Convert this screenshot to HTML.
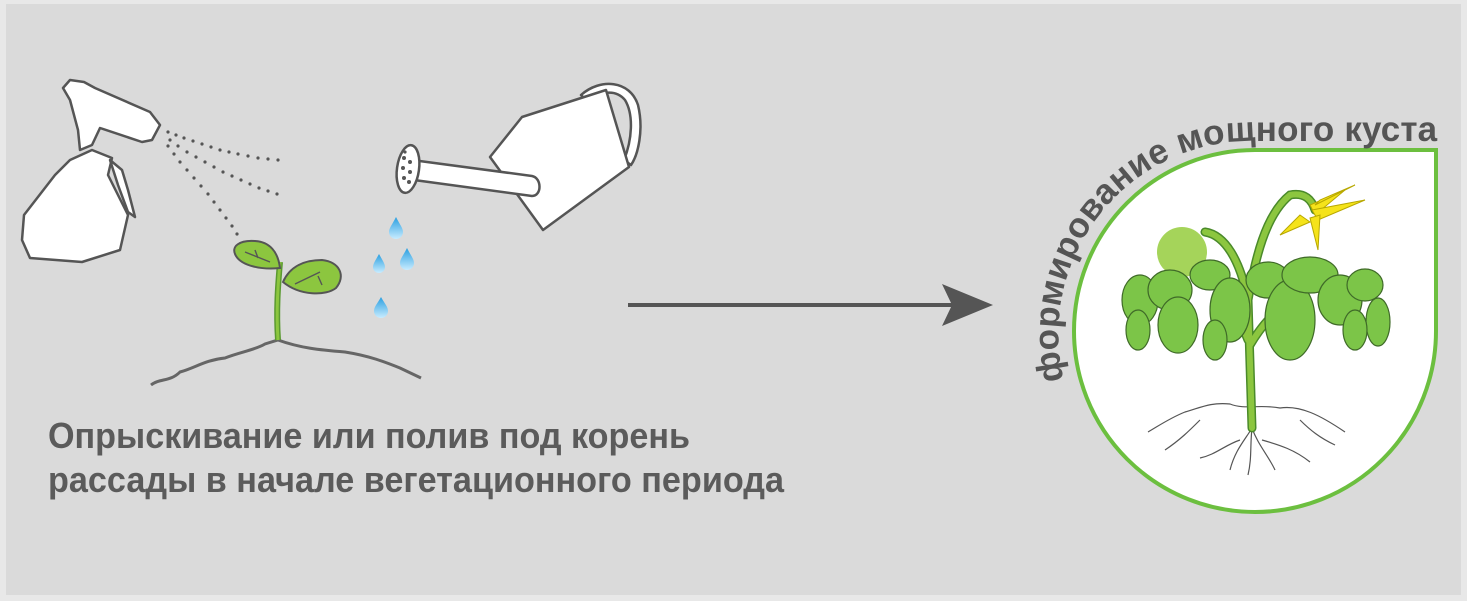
<!DOCTYPE html>
<html><head><meta charset="utf-8"><style>
html,body{margin:0;padding:0;background:#e8e8e8;}
svg{display:block;}
</style></head><body>
<svg width="1467" height="601" viewBox="0 0 1467 601" xmlns="http://www.w3.org/2000/svg" font-family="'Liberation Sans', sans-serif">
<rect x="0" y="0" width="1467" height="601" fill="#e8e8e8"/>
<rect x="6" y="4" width="1455" height="591" fill="#dadada"/>

<g fill="#fff" stroke="#555" stroke-width="2.5" stroke-linejoin="round">
  <path d="M92,150 L112,158 L108,175 L128,215 L120,250 L82,262 L30,258 L22,240 L24,215 L55,175 L70,160 Z"/>
  <path d="M110,160 L118,185 L128,212 L135,217 L128,190 L122,170 Z"/>
  <path d="M63,88 L70,80 L84,82 L95,88 L150,112 L160,125 L152,140 L142,142 L100,128 L92,145 L80,150 L78,130 L70,100 Z"/>
</g>
<g fill="#555">
  <circle cx="168" cy="132" r="1.6"/><circle cx="176" cy="135" r="1.6"/><circle cx="184" cy="138" r="1.6"/><circle cx="193" cy="141" r="1.6"/><circle cx="202" cy="144" r="1.6"/><circle cx="211" cy="147" r="1.6"/><circle cx="220" cy="150" r="1.6"/><circle cx="229" cy="152" r="1.6"/><circle cx="238" cy="154" r="1.6"/><circle cx="248" cy="156" r="1.6"/><circle cx="258" cy="158" r="1.6"/><circle cx="268" cy="159" r="1.6"/><circle cx="278" cy="160" r="1.6"/>
  <circle cx="170" cy="140" r="1.6"/><circle cx="178" cy="146" r="1.6"/><circle cx="187" cy="152" r="1.6"/><circle cx="196" cy="157" r="1.6"/><circle cx="205" cy="162" r="1.6"/><circle cx="214" cy="167" r="1.6"/><circle cx="223" cy="172" r="1.6"/><circle cx="232" cy="176" r="1.6"/><circle cx="241" cy="180" r="1.6"/><circle cx="250" cy="184" r="1.6"/><circle cx="259" cy="188" r="1.6"/><circle cx="268" cy="191" r="1.6"/><circle cx="277" cy="194" r="1.6"/>
  <circle cx="168" cy="146" r="1.6"/><circle cx="174" cy="154" r="1.6"/><circle cx="180" cy="162" r="1.6"/><circle cx="187" cy="170" r="1.6"/><circle cx="194" cy="178" r="1.6"/><circle cx="201" cy="186" r="1.6"/><circle cx="208" cy="194" r="1.6"/><circle cx="214" cy="202" r="1.6"/><circle cx="220" cy="210" r="1.6"/><circle cx="226" cy="218" r="1.6"/><circle cx="232" cy="226" r="1.6"/><circle cx="237" cy="234" r="1.6"/>
</g>

<g fill="#fff" stroke="#555" stroke-width="2.5" stroke-linejoin="round">
  <path d="M581,95 C600,78 630,80 638,105 C644,130 638,155 631,165 L624,160 C632,140 634,115 625,100 C615,88 598,92 588,102 Z"/>
  <path d="M490,157 L522,117 L606,90 L629,167 L543,230 Z"/>
  <path d="M412,160 L532,176 C542,178 542,196 532,196 L414,180 Z"/>
  <ellipse cx="408" cy="169" rx="11" ry="24" transform="rotate(8 408 169)"/>
</g>
<g fill="#555"><circle cx="404" cy="158" r="2"/><circle cx="410" cy="162" r="2"/><circle cx="403" cy="168" r="2"/><circle cx="410" cy="172" r="2"/><circle cx="404" cy="178" r="2"/><circle cx="409" cy="182" r="2"/><circle cx="405" cy="152" r="1.6"/></g>

<defs><linearGradient id="dg" x1="0" y1="0" x2="0" y2="1"><stop offset="0" stop-color="#2a9fe0"/><stop offset="1" stop-color="#c8ecff"/></linearGradient></defs>
<g fill="url(#dg)">
  <path d="M396,217 C392,225 389,228 389,232 A7,7 0 0 0 403,232 C403,228 400,225 396,217 Z"/>
  <path d="M379,254 C375,261 373,264 373,267 A6,6 0 0 0 385,267 C385,264 383,261 379,254 Z"/>
  <path d="M407,248 C403,256 400,259 400,263 A7,7 0 0 0 414,263 C414,259 411,256 407,248 Z"/>
  <path d="M381,297 C377,304 374,307 374,311 A7,7 0 0 0 388,311 C388,307 385,304 381,297 Z"/>
</g>

<path d="M151,385 C160,378 170,382 180,372 C195,368 205,360 225,358 C240,352 255,350 265,344 L278,340 C300,348 320,350 345,352 C370,356 385,362 400,368 L421,378" fill="none" stroke="#666" stroke-width="3"/>
<path d="M278,340 C276,310 278,285 280,262" fill="none" stroke="#5a9a30" stroke-width="6"/>
<path d="M278,340 C276,310 278,285 280,262" fill="none" stroke="#8cc63f" stroke-width="3"/>
<path d="M280,268 C278,252 270,242 255,241 C240,240 230,246 236,256 C242,266 262,270 280,268 Z" fill="#8cc63f" stroke="#555" stroke-width="2"/>
<path d="M283,282 C290,266 305,260 322,260 C340,262 346,276 336,288 C326,296 300,296 283,282 Z" fill="#8cc63f" stroke="#555" stroke-width="2"/>
<path d="M245,252 L270,262 M255,250 L258,258 M320,272 L295,284 M318,276 L322,285" stroke="#555" stroke-width="1.4" fill="none"/>

<g fill="#5b5b5b" font-weight="bold" font-size="30">
  <g transform="translate(48,448) scale(1,1.2)"><text x="0" y="0" textLength="642" lengthAdjust="spacingAndGlyphs">Опрыскивание или полив под корень</text></g>
  <g transform="translate(48,492) scale(1,1.2)"><text x="0" y="0" textLength="736" lengthAdjust="spacingAndGlyphs">рассады в начале вегетационного периода</text></g>
</g>

<line x1="628" y1="305" x2="955" y2="305" stroke="#555" stroke-width="4"/>
<path d="M993,305 L942,284 L952,305 L942,326 Z" fill="#555"/>

<path d="M1436,150 L1436,331 A181,181 0 1 1 1255,150 Z" fill="#fff" stroke="#6cbf3f" stroke-width="4"/>
<path id="arc" d="M1064,380 A193,193 0 0 1 1256,141 L1445,141" fill="none"/>
<text font-size="35" font-weight="bold" fill="#555" letter-spacing="0.15"><textPath href="#arc" startOffset="0">формирование мощного куста</textPath></text>

<g fill="none" stroke="#555" stroke-width="1.2">
  <path d="M1148,432 C1160,425 1170,418 1185,412 C1200,408 1210,402 1230,404 C1245,410 1260,404 1280,408 C1300,405 1320,415 1345,432"/>
  <path d="M1252,428 C1245,440 1235,450 1230,470 M1252,428 C1258,445 1268,455 1275,470 M1252,428 C1250,445 1252,458 1248,475 M1240,440 C1225,445 1215,455 1200,458 M1262,440 C1280,445 1295,450 1310,462 M1200,420 C1190,430 1180,440 1165,450 M1300,420 C1310,430 1320,438 1335,445"/>
</g>

<g fill="none" stroke="#4a8a2a" stroke-width="9" stroke-linecap="round">
  <path d="M1252,428 L1248,300 C1240,260 1225,235 1205,232"/>
  <path d="M1248,300 C1255,260 1265,215 1290,195 C1305,192 1312,200 1315,210"/>
  <path d="M1248,340 C1240,320 1230,300 1220,290 M1250,345 C1265,320 1280,305 1300,300"/>
</g>
<g fill="none" stroke="#8cc63f" stroke-width="6" stroke-linecap="round">
  <path d="M1252,428 L1248,300 C1240,260 1225,235 1205,232"/>
  <path d="M1248,300 C1255,260 1265,215 1290,195 C1305,192 1312,200 1315,210"/>
  <path d="M1248,340 C1240,320 1230,300 1220,290 M1250,345 C1265,320 1280,305 1300,300"/>
</g>
<circle cx="1182" cy="252" r="25" fill="#a5d45a"/>
<g fill="#f5e31a" stroke="#b8a800" stroke-width="1">
  <path d="M1310,205 L1345,190 L1315,215 Z"/><path d="M1312,210 L1365,200 L1318,220 Z"/>
  <path d="M1300,215 L1280,235 L1310,222 Z"/><path d="M1310,218 L1318,250 L1320,215 Z"/>
  <path d="M1315,205 L1355,185 L1320,200 Z"/>
</g>
<g fill="#7cc548" stroke="#3f6a28" stroke-width="1.2">
  <ellipse cx="1140" cy="300" rx="18" ry="25"/>
  <ellipse cx="1138" cy="330" rx="12" ry="20"/>
  <ellipse cx="1170" cy="290" rx="22" ry="20"/>
  <ellipse cx="1178" cy="325" rx="20" ry="28"/>
  <ellipse cx="1210" cy="275" rx="20" ry="15"/>
  <ellipse cx="1230" cy="310" rx="20" ry="32"/>
  <ellipse cx="1268" cy="280" rx="22" ry="18"/>
  <ellipse cx="1290" cy="320" rx="25" ry="40"/>
  <ellipse cx="1310" cy="275" rx="28" ry="18"/>
  <ellipse cx="1340" cy="300" rx="22" ry="25"/>
  <ellipse cx="1365" cy="285" rx="18" ry="16"/>
  <ellipse cx="1378" cy="322" rx="12" ry="24"/>
  <ellipse cx="1355" cy="330" rx="12" ry="20"/>
  <ellipse cx="1215" cy="340" rx="12" ry="20"/>
</g>
</svg>
</body></html>
